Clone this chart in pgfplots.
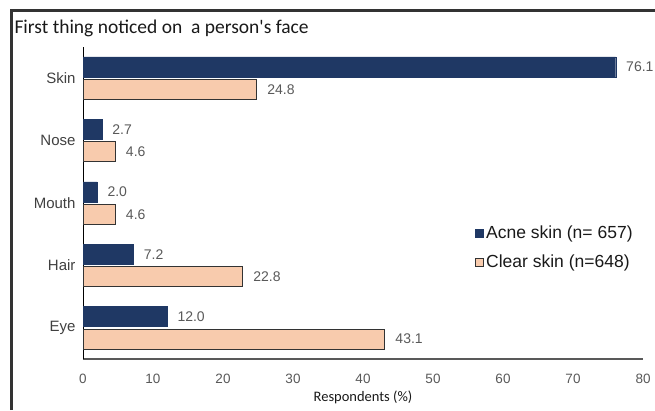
\documentclass[border=0pt]{standalone}
\usepackage{fontspec}
\setmainfont{Liberation Sans}
\newfontfamily\calibri{Carlito}
\usepackage{pgfplots}
\pgfplotsset{compat=1.18}
\definecolor{acne}{HTML}{1F3864}
\definecolor{clear}{HTML}{F8CBAD}
\definecolor{txtgray}{HTML}{595959}
\definecolor{catgray}{HTML}{404040}
\begin{document}
\begin{tikzpicture}[x=1pt,y=1pt]
\useasboundingbox (0,0) rectangle (655,410);
% outer frame (left and top edges)
\draw[line width=3pt, color=black!80] (11,0) -- (11,399) -- (655,399);
\node[anchor=west, font=\calibri\fontsize{19.5}{22}\selectfont, text=black!90] at (11,382)
  {First thing noticed on\ \ a person's face};
\begin{axis}[
  at={(83pt,51pt)}, anchor=south west,
  scale only axis, width=560pt, height=312pt,
  xmin=0, xmax=80, ymin=-0.5, ymax=4.5,
  xtick={0,10,...,80}, ytick={0,...,4},
  yticklabels={Eye,Hair,Mouth,Nose,Skin},
  major tick length=0pt,
  axis x line*=bottom, axis y line*=left,
  x axis line style={draw=txtgray, line width=1.6pt, -},
  y axis line style={draw=black, line width=0.9pt, -},
  /pgf/number format/assume math mode=true,
  xticklabel style={font=\fontsize{13.5}{16}\selectfont, text=txtgray, yshift=-12pt},
  yticklabel style={font=\fontsize{15}{18}\selectfont, text=catgray, xshift=-4pt},
  xlabel={Respondents (\%)},
  x label style={font=\calibri\fontsize{14.5}{18}\selectfont, text=black!90,
    at={(axis description cs:0.5,-0.122)}, anchor=center},
  point meta=x,
  nodes near coords={\pgfmathprintnumber[fixed,zerofill,precision=1]{\pgfplotspointmeta}},
  every node near coord/.append style={font=\fontsize{14}{16}\selectfont, text=txtgray, anchor=west, xshift=7pt},
  legend style={at={(0.695,0.44)}, anchor=north west, draw=none, fill=none,
    font=\fontsize{17.5}{20}\selectfont, text=black!90, row sep=11pt,
    cells={anchor=west}},
  legend image code/.code={\draw[#1, line width=0.8pt] (0pt,-4pt) rectangle (8pt,4pt);},
]
\addplot[xbar, bar width=0.32, bar shift=0.18, fill=acne, draw=acne,
  every node near coord/.append style={yshift=11.2pt}]
  coordinates {(12.0,0) (7.2,1) (2.0,2) (2.7,3) (76.1,4)};
\addlegendentry{Acne skin (n= 657)}
\addplot[xbar, bar width=0.32, bar shift=-0.18, fill=clear, draw=black!80, line width=0.9pt,
  every node near coord/.append style={yshift=-11.2pt}]
  coordinates {(43.1,0) (22.8,1) (4.6,2) (4.6,3) (24.8,4)};
\addlegendentry{Clear skin (n=648)}
\end{axis}
\end{tikzpicture}
\end{document}
